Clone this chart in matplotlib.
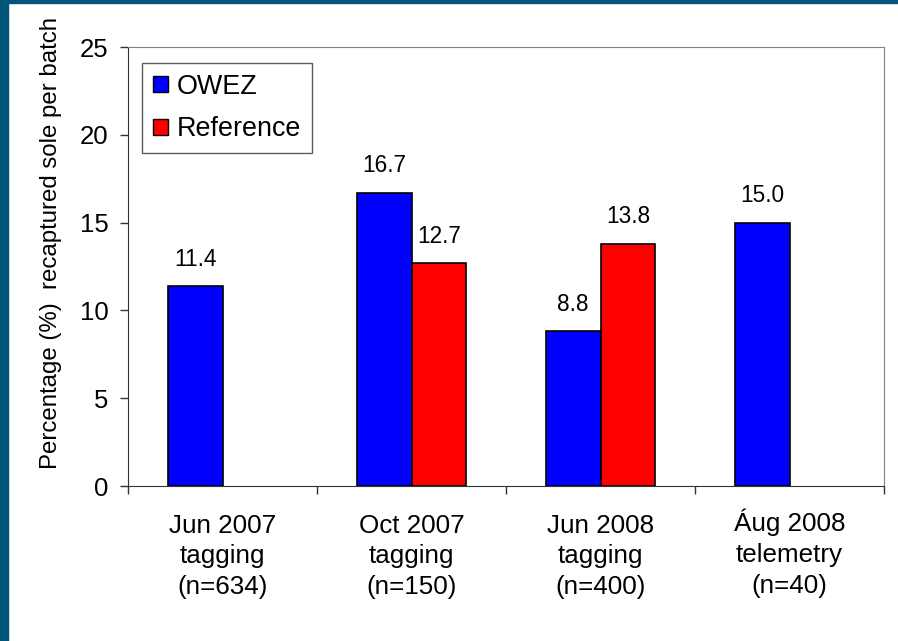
import numpy as np
import matplotlib
matplotlib.use('Agg')
import matplotlib.pyplot as plt
import matplotlib.transforms as mtransforms
from matplotlib.patches import Rectangle, Patch

# ── Data ─────────────────────────────────────────────────────
categories = ['Jun 2007\ntagging\n(n=634)', 'Oct 2007\ntagging\n(n=150)',
              'Jun 2008\ntagging\n(n=400)', 'Áug 2008\ntelemetry\n(n=40)']
owez = [11.4, 16.7, 8.8, 15.0]
reference = [np.nan, 12.7, 13.8, np.nan]

blue = '#0000FF'
red = '#FF0000'
frame_color = '#00557A'

plt.rcParams['font.family'] = ['Liberation Sans', 'DejaVu Sans']

fig = plt.figure(figsize=(8.98, 6.41), dpi=100)
fig.patch.set_facecolor('white')
# dark blue slide frame (left + top)
fig.patches.append(Rectangle((0, 0), 8 / 898, 1, transform=fig.transFigure,
                             color=frame_color, zorder=0))
fig.patches.append(Rectangle((0, 1 - 3 / 641), 1, 3 / 641, transform=fig.transFigure,
                             color=frame_color, zorder=0))

ax = fig.add_axes([128 / 898, 1 - 486 / 641, 756 / 898, 439 / 641])

x = np.arange(len(categories))
w = 0.29
for xi, v in zip(x, owez):
    if not np.isnan(v):
        ax.bar(xi - w / 2, v, w, color=blue, edgecolor='black', linewidth=1.2, zorder=3)
        ax.annotate(f'{v:.1f}', (xi - w / 2, v), xytext=(0, 11), textcoords='offset points',
                    ha='center', va='bottom', fontsize=16.3)
for xi, v in zip(x, reference):
    if not np.isnan(v):
        ax.bar(xi + w / 2, v, w, color=red, edgecolor='black', linewidth=1.2, zorder=3)
        ax.annotate(f'{v:.1f}', (xi + w / 2, v), xytext=(0, 11), textcoords='offset points',
                    ha='center', va='bottom', fontsize=16.3)

ax.set_xlim(-0.5, len(categories) - 0.5)
ax.set_ylim(0, 25)
ax.set_yticks([0, 5, 10, 15, 20, 25])
ax.set_xticks(x)
ax.set_xticklabels(categories, fontsize=18.7, linespacing=1.35)
ax.set_xticks(np.arange(len(categories) + 1) - 0.5, minor=True)
ax.tick_params(axis='x', which='major', length=0, pad=20)
ax.tick_params(axis='x', which='minor', length=6, width=1, color='#333333', direction='out')
ax.tick_params(axis='y', labelsize=18.5, length=6, width=1, color='#333333', pad=8)

# the accent on "Á" makes that label taller; lift it so the first lines line up
for lab in ax.get_xticklabels():
    if lab.get_text().startswith('Á'):
        lab.set_transform(lab.get_transform() +
                          mtransforms.ScaledTranslation(0, 5 / 100, fig.dpi_scale_trans))

for side in ['top', 'right']:
    ax.spines[side].set_color('#808080')
for side in ['left', 'bottom']:
    ax.spines[side].set_color('#333333')

ax.set_ylabel('Percentage (%)  recaptured sole per batch', fontsize=17.3)
ax.yaxis.set_label_coords(-0.087, 0.553)

handles = [Patch(facecolor=blue, edgecolor='black', label='OWEZ'),
           Patch(facecolor=red, edgecolor='black', label='Reference')]
leg = ax.legend(handles=handles, loc='upper left', bbox_to_anchor=(0.0185, 0.9636),
                fontsize=19.4, frameon=True, fancybox=False, handlelength=0.55,
                handleheight=0.55, handletextpad=0.35, labelspacing=0.62,
                borderpad=0.4, borderaxespad=0)
leg.get_frame().set_edgecolor('#333333')
leg.get_frame().set_linewidth(1)

plt.savefig('out.png', dpi=100, facecolor='white')
